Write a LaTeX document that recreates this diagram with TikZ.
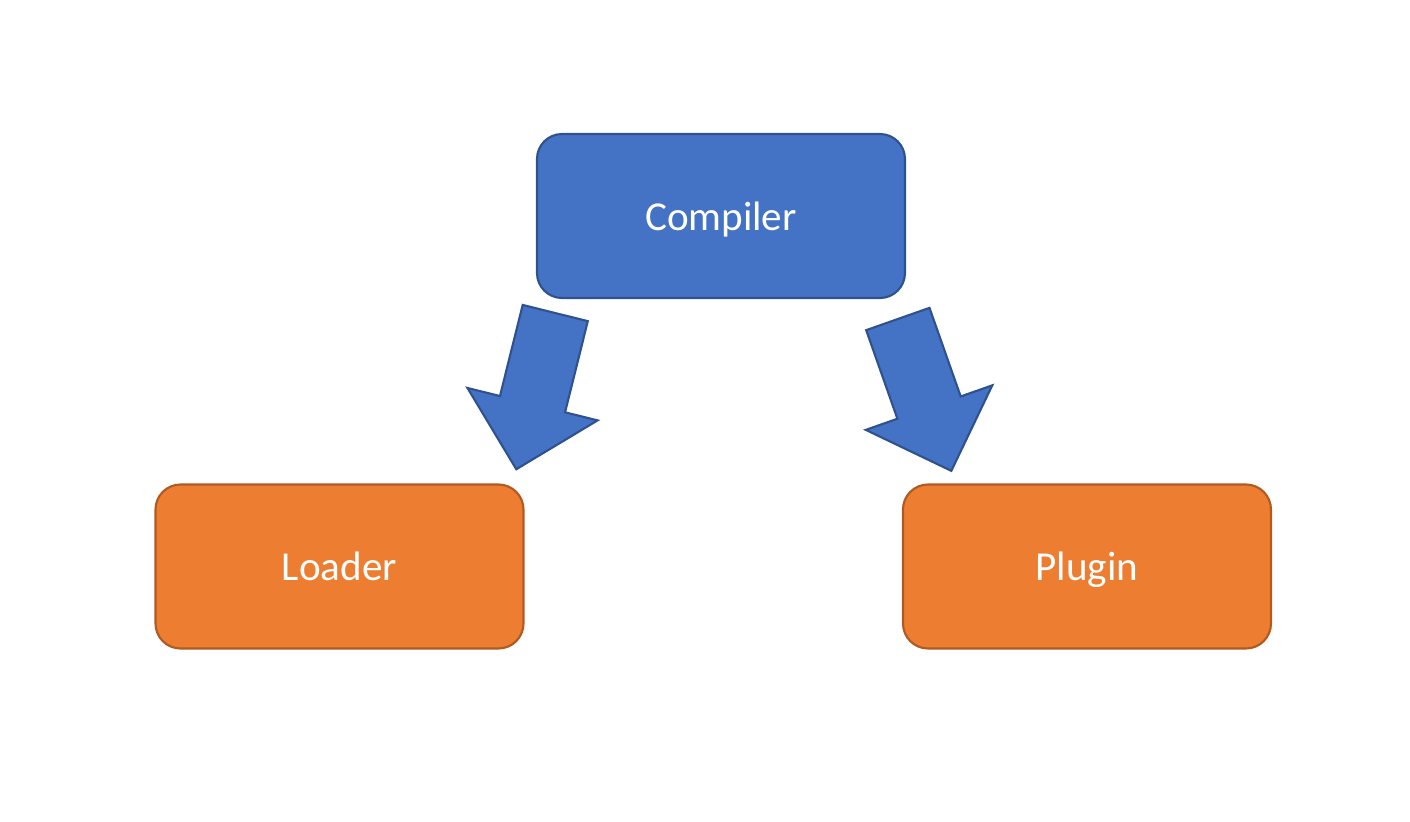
\documentclass[tikz,border=0pt]{standalone}
\usepackage{fontspec}
\setmainfont{Carlito}
\usetikzlibrary{shapes.arrows}
\definecolor{compblue}{HTML}{4472C4}
\definecolor{compedge}{HTML}{2F528F}
\definecolor{partorange}{HTML}{ED7D31}
\definecolor{partedge}{HTML}{AE5A21}
\begin{document}
\begin{tikzpicture}

      \tikzset{block/.style={draw, rounded corners=.25cm, line width=.6pt, minimum width=3.68cm, minimum height=1.64cm, text height=8.2pt, text depth=0pt, text=white, font=\fontsize{11.7}{14}\selectfont},
               comp/.style={block, fill=compblue, draw=compedge},
               part/.style={block, fill=partorange, draw=partedge},
               bigarrow/.style={draw=compedge, fill=compblue, line width=.6pt, single arrow, anchor=tail, inner sep=0pt, text height=.65cm, text depth=0pt, single arrow head extend=.335cm, minimum height=1.61cm}}
      \useasboundingbox (0,0) rectangle (14.1,-8.22);
%% Boxes
      	\node[comp] (compiler) at (7.21,-2.16) {Compiler};
      	\node[part] (loader) at (3.395,-5.665) {Loader};
      	\node[part] (plugin) at (10.87,-5.665) {Plugin};

%Arrows
		\node[bigarrow, rotate=256] (toloader) at (5.555,-3.12) {};
		\node[bigarrow, rotate=-70.6] (toplugin) at (8.975,-3.18) {};
	\end{tikzpicture}
\end{document}
